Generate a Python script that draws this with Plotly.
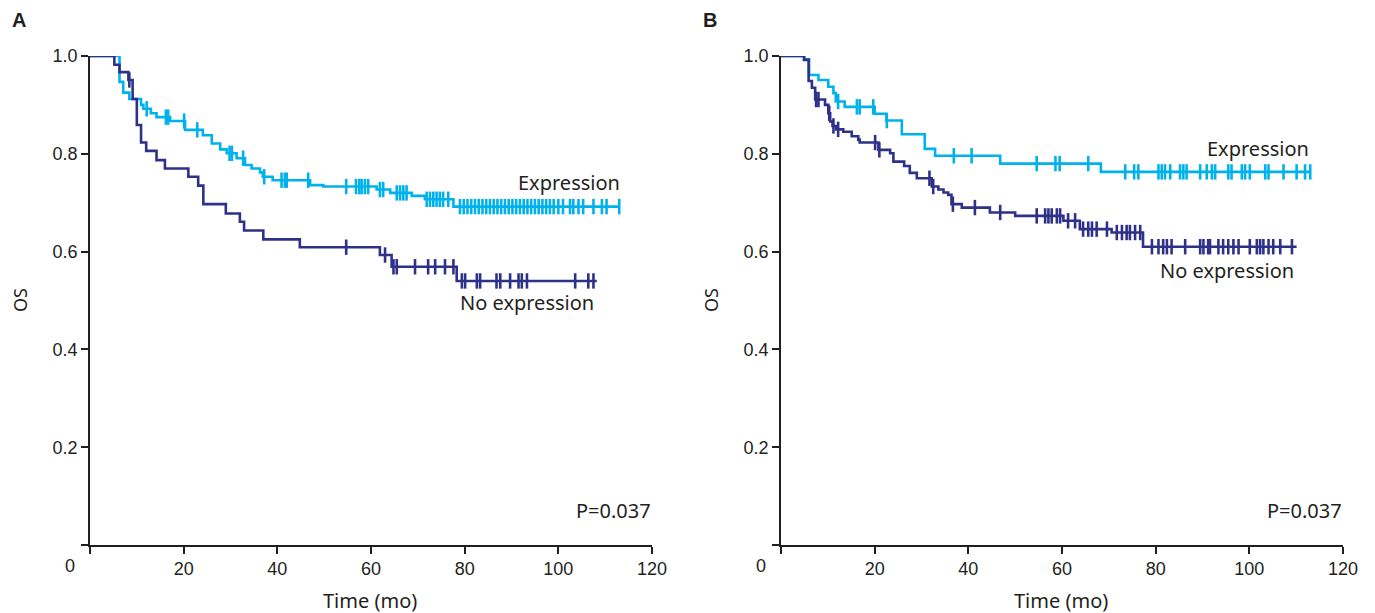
import plotly.graph_objects as go
from bisect import bisect_right

# page body has an 8px margin; the figure is sized so it ends at the window edge
OFF = 8
W, H = 1375 - OFF, 613 - OFF

# ---------------- Data ----------------
# Panel A - Expression
a_exp_times = [6.3, 7.1, 8.4, 10.9, 11.4, 13.0, 14.2, 17.1, 20.3, 24.1, 26.0, 27.8, 29.2,
               31.3, 33.1, 34.5, 36.3, 36.9, 39.0, 47.0, 49.8, 61.2, 64.1, 68.7, 71.5, 77.6]
a_exp_surv = [0.947, 0.925, 0.912, 0.900, 0.892, 0.883, 0.875, 0.867, 0.849, 0.838, 0.821,
              0.809, 0.801, 0.791, 0.777, 0.770, 0.762, 0.753, 0.746, 0.736, 0.733, 0.727,
              0.720, 0.714, 0.707, 0.692]
a_exp_cens = [12.1, 16.2, 16.7, 20.1, 22.9, 29.8, 30.3, 32.7, 37.2, 40.9, 41.6, 42.0, 46.6,
              54.7, 56.8, 57.5, 58.0, 58.7, 59.4, 61.9, 62.6, 65.5, 66.2, 66.9, 67.6, 71.9,
              72.6, 73.3, 74.0, 74.7, 75.4, 76.5, 79.0, 79.8, 80.6, 81.4, 82.2, 83.0, 83.8,
              84.6, 85.4, 86.2, 87.0, 87.8, 88.6, 89.4, 90.2, 91.0, 91.8, 92.6, 93.4, 94.2,
              95.0, 95.8, 96.6, 97.4, 98.2, 99.0, 100.0, 101.0, 102.5, 103.2, 104.3, 105.3,
              107.5, 109.3, 110.3, 113.0]
a_exp_end = 113.2

# Panel A - No expression
a_no_times = [5.2, 6.3, 8.2, 9.1, 10.0, 10.9, 12.0, 14.2, 16.0, 21.0, 23.1, 24.2, 29.0,
              32.0, 32.9, 37.0, 44.8, 61.9, 64.4, 78.3]
a_no_surv = [0.982, 0.967, 0.951, 0.912, 0.859, 0.823, 0.806, 0.787, 0.770, 0.753, 0.735,
             0.697, 0.678, 0.661, 0.643, 0.625, 0.609, 0.593, 0.569, 0.540]
a_no_cens = [8.4, 54.7, 63.0, 64.8, 65.5, 69.4, 72.2, 73.7, 75.8, 77.6, 79.4, 80.1, 82.6,
             83.3, 86.8, 87.6, 89.7, 91.5, 92.2, 93.3, 103.6, 106.4, 107.5]
a_no_end = 108.2

# Panel B - Expression
b_exp_times = [5.0, 6.0, 8.0, 10.1, 11.2, 11.7, 13.6, 20.0, 22.5, 25.8, 30.7, 32.9, 46.8, 68.3]
b_exp_surv = [0.993, 0.961, 0.951, 0.937, 0.924, 0.907, 0.896, 0.882, 0.868, 0.840, 0.810,
              0.796, 0.780, 0.763]
b_exp_cens = [12.2, 16.2, 16.8, 19.7, 22.6, 36.9, 40.7, 54.6, 58.6, 59.5, 65.6, 73.5, 75.4,
              76.3, 80.6, 81.3, 82.0, 83.1, 85.2, 85.9, 86.6, 89.5, 90.9, 92.0, 92.7, 95.5,
              96.2, 98.4, 99.1, 100.1, 103.4, 104.1, 107.3, 110.1, 111.9, 113.0]
b_exp_end = 113.0

# Panel B - No expression
b_no_times = [4.9, 5.9, 6.6, 7.3, 9.4, 10.1, 10.5, 11.0, 11.8, 13.3, 15.1, 16.5, 16.8, 20.8,
              23.3, 24.0, 26.3, 27.5, 29.0, 32.2, 33.6, 34.7, 35.7, 36.4, 38.6, 44.6, 50.0,
              60.3, 63.8, 70.6, 77.3]
b_no_surv = [0.992, 0.949, 0.935, 0.911, 0.900, 0.883, 0.866, 0.857, 0.850, 0.845, 0.836,
             0.829, 0.823, 0.808, 0.801, 0.784, 0.775, 0.761, 0.750, 0.733, 0.727, 0.721,
             0.716, 0.697, 0.690, 0.680, 0.673, 0.663, 0.646, 0.639, 0.610]
b_no_cens = [7.5, 8.0, 10.3, 11.2, 12.2, 20.1, 21.0, 31.7, 32.5, 36.7, 41.4, 46.8, 54.6,
             56.4, 57.1, 57.8, 58.9, 59.6, 61.3, 62.8, 64.5, 65.6, 66.4, 67.4, 69.6, 71.7,
             72.8, 73.8, 74.5, 75.6, 76.7, 79.2, 80.6, 81.6, 82.4, 83.4, 86.3, 89.5, 90.2,
             91.2, 91.6, 93.4, 94.4, 95.5, 96.6, 97.7, 100.1, 101.6, 102.3, 103.0, 104.1,
             105.1, 106.6, 109.1]
b_no_end = 110.1

x_ticks = [0, 20, 40, 60, 80, 100, 120]
x_ticktext = ["", "20", "40", "60", "80", "100", "120"]
y_ticks = [0, 0.2, 0.4, 0.6, 0.8, 1.0]
y_ticktext = ["", "0.2", "0.4", "0.6", "0.8", "1.0"]

CYAN = "#00B2EB"
NAVY = "#2E3188"
TXT = "#231F20"


def step_value(times, surv, t):
    i = bisect_right(times, t)
    return 1.0 if i == 0 else surv[i - 1]


fig = go.Figure()


def add_curve(times, surv, cens, end, color, xa, ya):
    xs = [0] + times + [end]
    ys = [1.0] + surv + [surv[-1]]
    fig.add_trace(go.Scatter(x=xs, y=ys, mode="lines", line=dict(color=color, width=2.6, shape="hv"),
                             xaxis=xa, yaxis=ya, showlegend=False, hoverinfo="skip"))
    cy = [step_value(times, surv, t) for t in cens]
    fig.add_trace(go.Scatter(x=cens, y=cy, mode="markers",
                             marker=dict(symbol="line-ns", size=11, line=dict(color=color, width=2.6)),
                             xaxis=xa, yaxis=ya, showlegend=False, hoverinfo="skip"))


add_curve(a_exp_times, a_exp_surv, a_exp_cens, a_exp_end, CYAN, "x", "y")
add_curve(a_no_times, a_no_surv, a_no_cens, a_no_end, NAVY, "x", "y")
add_curve(b_exp_times, b_exp_surv, b_exp_cens, b_exp_end, CYAN, "x2", "y2")
add_curve(b_no_times, b_no_surv, b_no_cens, b_no_end, NAVY, "x2", "y2")


def fx(px):
    return (px - OFF) / W


def fy(py):
    return 1 - (py - OFF) / H


y_dom = [fy(545), fy(56)]
axA = [fx(90), fx(652)]
axB = [fx(781), fx(1343)]

tickfont = dict(family="Liberation Sans, Arial, sans-serif", size=18, color=TXT)
xcommon = dict(range=[0, 120], tickvals=x_ticks, ticktext=x_ticktext, showline=True,
               linecolor=TXT, linewidth=1.5, ticks="outside", ticklen=7, tickwidth=1.5,
               tickcolor=TXT, showgrid=False, zeroline=False, tickfont=tickfont,
               fixedrange=True, automargin=False)
ycommon = dict(range=[0, 1.0], tickvals=y_ticks, ticktext=y_ticktext, showline=True,
               linecolor=TXT, linewidth=1.5, ticks="outside", ticklen=7, tickwidth=1.5,
               tickcolor=TXT, showgrid=False, zeroline=False, tickfont=tickfont,
               fixedrange=True, automargin=False)

fig.update_layout(
    template="none",
    width=W, height=H,
    margin=dict(l=0, r=0, t=0, b=0, pad=0, autoexpand=False),
    paper_bgcolor="white", plot_bgcolor="white",
    xaxis=dict(domain=axA, anchor="y", **xcommon),
    yaxis=dict(domain=y_dom, anchor="x", **ycommon),
    xaxis2=dict(domain=axB, anchor="y2", **xcommon),
    yaxis2=dict(domain=y_dom, anchor="x2", **ycommon),
)

lab = dict(family="Noto Sans, sans-serif", size=20, color=TXT)
oslab = dict(family="Noto Sans, sans-serif", size=18, color=TXT)


def ann(text, px, py, font, xanchor="center", yanchor="middle", angle=0):
    fig.add_annotation(text=text, x=fx(px), y=fy(py), xref="paper", yref="paper",
                       showarrow=False, font=font, xanchor=xanchor, yanchor=yanchor,
                       textangle=angle, borderpad=0)


bold = dict(family="Liberation Sans, Arial, sans-serif", size=20, color=TXT, weight="bold")
for off, letter in [(0, "A"), (691, "B")]:
    ann(letter, 19 + off, 20, bold)
    ann("OS", 20 + off, 300, oslab, angle=-90)
    ann("Time (mo)", 370 + off, 600, lab)
    ann("0", 70 + off, 566, tickfont)
    ann("P=0.037", 652 + off, 510, lab, xanchor="right")

ann("Expression", 621, 183, lab, xanchor="right")
ann("No expression", 595, 302, lab, xanchor="right")
ann("Expression", 1310, 148, lab, xanchor="right")
ann("No expression", 1295, 270, lab, xanchor="right")

fig.write_html("out.html")
